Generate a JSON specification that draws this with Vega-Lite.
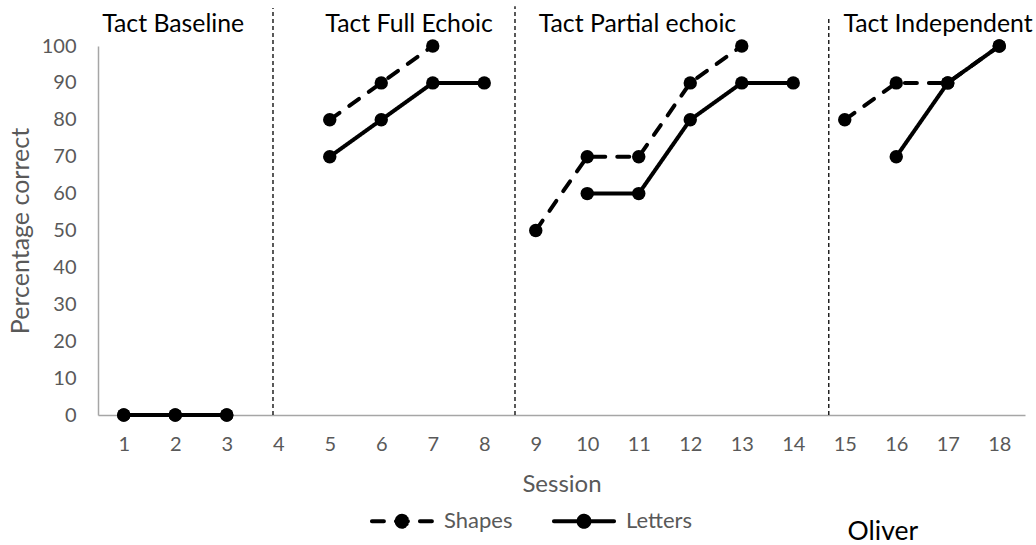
{
  "$schema": "https://vega.github.io/schema/vega-lite/v6.json",
  "autosize": "none",
  "width": 927,
  "height": 369,
  "padding": {"left": 98, "top": 46, "right": 11, "bottom": 130},
  "background": "white",
  "config": {
    "view": {"stroke": null},
    "font": "Lato",
    "axis": {"labelFont": "Lato", "titleFont": "Lato", "labelColor": "#595959", "titleColor": "#595959", "domainColor": "#a6a6a6", "domainWidth": 1.5, "grid": false, "ticks": false, "tickSize": 0, "titleFontWeight": "normal", "labelOverlap": false},
    "axisX": {"values": [1,2,3,4,5,6,7,8,9,10,11,12,13,14,15,16,17,18], "labelFontSize": 20, "titleFontSize": 24, "labelPadding": 19, "titlePadding": 18, "labelFlush": false, "format": "d"},
    "axisY": {"values": [0,10,20,30,40,50,60,70,80,90,100], "tickCount": 11, "labelFontSize": 20, "titleFontSize": 25, "labelPadding": 22, "titlePadding": 8, "format": "d"}
  },
  "datasets": {
    "main": [
      {"session": 1, "pct": 0, "series": "Shapes", "phase": "Baseline"},
      {"session": 2, "pct": 0, "series": "Shapes", "phase": "Baseline"},
      {"session": 3, "pct": 0, "series": "Shapes", "phase": "Baseline"},
      {"session": 5, "pct": 80, "series": "Shapes", "phase": "Full"},
      {"session": 6, "pct": 90, "series": "Shapes", "phase": "Full"},
      {"session": 7, "pct": 100, "series": "Shapes", "phase": "Full"},
      {"session": 9, "pct": 50, "series": "Shapes", "phase": "Partial"},
      {"session": 10, "pct": 70, "series": "Shapes", "phase": "Partial"},
      {"session": 11, "pct": 70, "series": "Shapes", "phase": "Partial"},
      {"session": 12, "pct": 90, "series": "Shapes", "phase": "Partial"},
      {"session": 13, "pct": 100, "series": "Shapes", "phase": "Partial"},
      {"session": 15, "pct": 80, "series": "Shapes", "phase": "Independent"},
      {"session": 16, "pct": 90, "series": "Shapes", "phase": "Independent"},
      {"session": 17, "pct": 90, "series": "Shapes", "phase": "Independent"},
      {"session": 18, "pct": 100, "series": "Shapes", "phase": "Independent"},
      {"session": 1, "pct": 0, "series": "Letters", "phase": "Baseline"},
      {"session": 2, "pct": 0, "series": "Letters", "phase": "Baseline"},
      {"session": 3, "pct": 0, "series": "Letters", "phase": "Baseline"},
      {"session": 5, "pct": 70, "series": "Letters", "phase": "Full"},
      {"session": 6, "pct": 80, "series": "Letters", "phase": "Full"},
      {"session": 7, "pct": 90, "series": "Letters", "phase": "Full"},
      {"session": 8, "pct": 90, "series": "Letters", "phase": "Full"},
      {"session": 10, "pct": 60, "series": "Letters", "phase": "Partial"},
      {"session": 11, "pct": 60, "series": "Letters", "phase": "Partial"},
      {"session": 12, "pct": 80, "series": "Letters", "phase": "Partial"},
      {"session": 13, "pct": 90, "series": "Letters", "phase": "Partial"},
      {"session": 14, "pct": 90, "series": "Letters", "phase": "Partial"},
      {"session": 16, "pct": 70, "series": "Letters", "phase": "Independent"},
      {"session": 17, "pct": 90, "series": "Letters", "phase": "Independent"},
      {"session": 18, "pct": 100, "series": "Letters", "phase": "Independent"}
    ],
    "phaselines": [
      {"x": 3.898, "bottom": 0, "top": 110.3},
      {"x": 8.597, "bottom": 0, "top": 110.8},
      {"x": 14.69, "bottom": 0, "top": 107.3}
    ],
    "phaselabels": [
      {"center": 1.96, "level": 103.8, "label": "Tact Baseline"},
      {"center": 6.54, "level": 103.8, "label": "Tact Full Echoic"},
      {"center": 10.975, "level": 103.8, "label": "Tact Partial echoic"},
      {"center": 16.81, "level": 103.8, "label": "Tact Independent"}
    ],
    "note": [
      {"center": 15.74, "level": -33.9, "label": "Oliver"}
    ]
  },
  "layer": [
    {
      "data": {"name": "phaselines"},
      "mark": {"type": "rule", "color": "black", "strokeWidth": 1.3, "strokeDash": [4, 3], "clip": false},
      "encoding": {
        "x": {"field": "x", "type": "quantitative", "scale": {"domain": [0.5, 18.5], "nice": false, "zero": false}, "axis": {"title": "Session"}},
        "y": {"field": "bottom", "type": "quantitative", "scale": {"domain": [0, 100], "nice": false}, "axis": {"title": "Percentage correct"}},
        "y2": {"field": "top"}
      }
    },
    {
      "data": {"name": "phaselabels"},
      "mark": {"type": "text", "font": "Lato", "fontSize": 24.8, "color": "black", "align": "center", "baseline": "alphabetic", "clip": false},
      "encoding": {
        "x": {"field": "center", "type": "quantitative"},
        "y": {"field": "level", "type": "quantitative"},
        "text": {"field": "label"}
      }
    },
    {
      "data": {"name": "note"},
      "mark": {"type": "text", "font": "Lato", "fontSize": 26.5, "color": "black", "align": "center", "baseline": "alphabetic", "clip": false},
      "encoding": {
        "x": {"field": "center", "type": "quantitative"},
        "y": {"field": "level", "type": "quantitative"},
        "text": {"field": "label"}
      }
    },
    {
      "data": {"name": "main"},
      "mark": {"type": "line", "color": "black", "strokeWidth": 4, "strokeCap": "round", "clip": false},
      "encoding": {
        "x": {"field": "session", "type": "quantitative"},
        "y": {"field": "pct", "type": "quantitative"},
        "strokeDash": {"field": "series", "type": "nominal", "sort": ["Shapes", "Letters"],
          "scale": {"domain": ["Shapes", "Letters"], "range": [[12, 12], [1, 0]]},
          "legend": {
            "title": null, "orient": "none", "direction": "horizontal", "legendX": 270, "legendY": 441,
            "padding": 0,
            "symbolType": "M-0.94,0H0.94M-0.17,0A0.17,0.17 0 1,1 0.17,0A0.17,0.17 0 1,1 -0.17,0ZM0,0L0.17,0M0,0L0.147,0.085M0,0L0.085,0.147M0,0L0,0.17M0,0L-0.085,0.147M0,0L-0.147,0.085M0,0L-0.17,0M0,0L-0.147,-0.085M0,0L-0.085,-0.147M0,0L0,-0.17M0,0L0.085,-0.147M0,0L0.147,-0.085",
            "symbolSize": 4096, "labelFont": "Lato", "labelFontSize": 22, "labelColor": "#595959",
            "labelOffset": 8, "columnPadding": 32,
            "symbolFillColor": "black", "symbolStrokeColor": "black", "symbolStrokeWidth": 4, "symbolOpacity": 1,
            "encode": {"symbols": {"update": {"strokeCap": {"value": "round"}}}}
          }
        },
        "detail": {"field": "phase"},
        "order": {"field": "session"}
      }
    },
    {
      "data": {"name": "main"},
      "mark": {"type": "point", "filled": true, "color": "black", "size": 180, "opacity": 1, "clip": false},
      "encoding": {
        "x": {"field": "session", "type": "quantitative"},
        "y": {"field": "pct", "type": "quantitative"}
      }
    }
  ]
}
